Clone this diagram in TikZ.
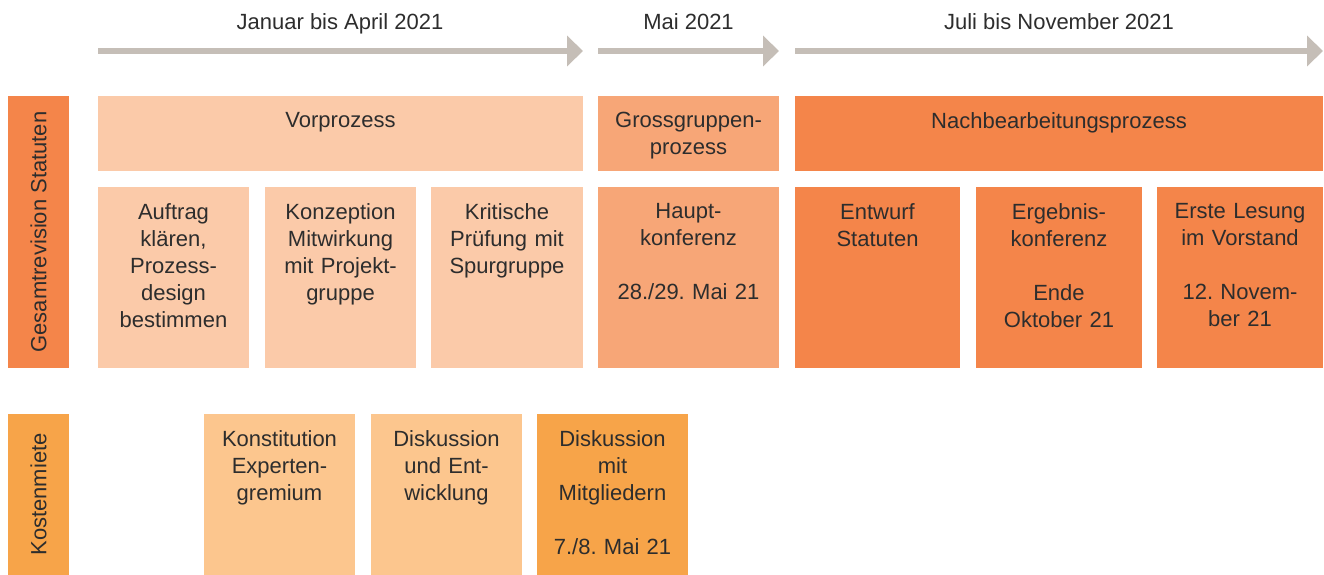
\documentclass[tikz,border=0pt]{standalone}
\usepackage{fontspec}
\setmainfont{Liberation Sans}
\usepackage{xcolor}
\usepackage{tikz}
\usetikzlibrary{positioning,arrows.meta}

\definecolor{hell}{RGB}{251,202,169}
\definecolor{mittel}{RGB}{247,166,119}
\definecolor{dunkel}{RGB}{244,133,74}
\definecolor{gelb}{RGB}{247,164,73}
\definecolor{gelbhell}{RGB}{252,198,142}
\definecolor{pfeil}{RGB}{197,190,183}
\definecolor{schrift}{RGB}{45,45,45}
\frenchspacing

\begin{document}
\begin{tikzpicture}[x=1pt, y=-1pt,
  every node/.style={text=schrift, font=\fontsize{22}{27}\selectfont},
  zeit/.style={draw=pfeil, line width=5.5pt, -{Triangle[length=16pt,width=30pt]}},
  txt/.style={anchor=north, inner sep=0pt, align=center, text width=160pt}]
  \useasboundingbox (0,0) rectangle (1324,575);

  % Zeitachse oben
  \coordinate (t1a) at (98,51);  \coordinate (t1b) at (583,51);
  \coordinate (t2a) at (598,51); \coordinate (t2b) at (779,51);
  \coordinate (t3a) at (795,51); \coordinate (t3b) at (1323,51);
  \draw[zeit] (t1a) -- (t1b);
  \draw[zeit] (t2a) -- (t2b);
  \draw[zeit] (t3a) -- (t3b);
  \node[anchor=base] (jan) at (340,30) {Januar bis April 2021};
  \node[anchor=base] (mai) at (688.5,30) {Mai 2021};
  \node[anchor=base] (jul) at (1059,30) {Juli bis November 2021};

  % Gesamtrevision Statuten
  \fill[dunkel] (8,96) rectangle (69,368);
  \node[rotate=90] (gesamt) at (38.5,232) {Gesamtrevision Statuten};

  \fill[hell] (98,96) rectangle (583,171);
  \node[txt, text width=470pt] (vor) at (340.5,112) {Vorprozess};
  \fill[mittel] (598,96) rectangle (779,171);
  \node[txt, text width=170pt] (gross) at (688.5,112) {Grossgruppen-\\prozess};
  \fill[dunkel] (795,96) rectangle (1323,171);
  \node[txt, text width=500pt] (nach) at (1059,112) {Nachbearbeitungsprozess};

  \fill[hell] (98,187) rectangle (249,368);
  \node[txt] (auftrag) at (173.5,203) {Auftrag\\kl\"aren,\\Prozess-\\design\\bestimmen};
  \fill[hell] (265,187) rectangle (416,368);
  \node[txt] (konzept) at (340.5,203) {Konzeption\\Mitwirkung\\mit Projekt-\\gruppe};
  \fill[hell] (431,187) rectangle (583,368);
  \node[txt] (kritik) at (507,203) {Kritische\\Pr\"ufung mit\\Spurgruppe};
  \fill[mittel] (598,187) rectangle (779,368);
  \node[txt] (haupt) at (688.5,203) {Haupt-\\konferenz\\[27pt]28./29. Mai 21};
  \fill[dunkel] (795,187) rectangle (960,368);
  \node[txt] (entwurf) at (877.5,203) {Entwurf\\Statuten};
  \fill[dunkel] (976,187) rectangle (1142,368);
  \node[txt] (ergebnis) at (1059,203) {Ergebnis-\\konferenz\\[27pt]Ende\\Oktober 21};
  \fill[dunkel] (1157,187) rectangle (1323,368);
  \node[txt] (lesung) at (1240,203) {Erste Lesung\\im Vorstand\\[27pt]12. Novem-\\ber 21};

  % Kostenmiete
  \fill[gelb] (8,414) rectangle (69,575);
  \node[rotate=90] (kosten) at (38.5,494.5) {Kostenmiete};

  \fill[gelbhell] (204,414) rectangle (355,575);
  \node[txt] (konstitution) at (279.5,430) {Konstitution\\Experten-\\gremium};
  \fill[gelbhell] (371,414) rectangle (522,575);
  \node[txt] (entwicklung) at (446.5,430) {Diskussion\\und Ent-\\wicklung};
  \fill[gelb] (537,414) rectangle (688,575);
  \node[txt] (mitglieder) at (612.5,430) {Diskussion\\mit\\Mitgliedern\\[27pt]7./8. Mai 21};
\end{tikzpicture}
\end{document}
